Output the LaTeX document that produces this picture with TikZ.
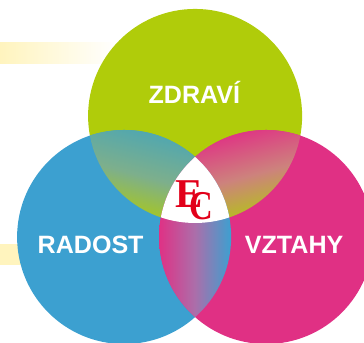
\documentclass[tikz,border=0pt]{standalone}
\usepackage{fontspec}
\setmainfont{Liberation Sans}
\newfontfamily\ecfont{Liberation Serif}
\usetikzlibrary{shadings}
\definecolor{zelena}{RGB}{176,204,10}
\definecolor{modra}{RGB}{60,160,208}
\definecolor{ruzova}{RGB}{224,48,132}
\definecolor{zluta}{RGB}{255,244,190}
\definecolor{cervena}{RGB}{226,0,26}
\definecolor{stredL}{RGB}{125,175,140}
\definecolor{stredP}{RGB}{205,130,125}
\definecolor{stredD}{RGB}{172,110,170}
\tikzset{
    kruh/.style={circle,minimum size=5.88cm,inner sep=0pt},
    popis/.style={text=white,anchor=base,font=\bfseries\fontsize{19.6}{21}\selectfont},
    pismeno/.style={text=cervena,inner sep=0pt,font=\ecfont\bfseries\fontsize{32}{34}\selectfont}
}
\begin{document}
\begin{tikzpicture}[x=1cm,y=1cm]
    \useasboundingbox (0,0) rectangle (10,9.396);
    \clip (0,0) rectangle (10,9.396);

    \shade[left color=zluta,right color=white] (0,7.64) rectangle (3.2,8.22);
    \fill[zluta] (0,2.115) rectangle (0.8,2.69);

    \node[kruh,fill=zelena] (Z) at (5.36,6.21) {};
    \node[kruh,fill=modra] (R) at (3.41,2.885) {};
    \node[kruh,fill=ruzova] (V) at (7.31,2.885) {};

    \begin{scope}
        \clip (Z.center) circle (2.94);
        \clip (R.center) circle (2.94);
        \shade[top color=modra!85!zelena,bottom color=zelena,middle color=stredL,shading angle=-15] (2.42,3.27) rectangle (5.41,5.85);
    \end{scope}
    \begin{scope}
        \clip (Z.center) circle (2.94);
        \clip (V.center) circle (2.94);
        \shade[top color=ruzova,bottom color=zelena,middle color=stredP,shading angle=15] (5.3,3.27) rectangle (8.3,5.85);
    \end{scope}
    \begin{scope}
        \clip (R.center) circle (2.94);
        \clip (V.center) circle (2.94);
        \shade[left color=ruzova,right color=modra,middle color=stredD] (4.35,0.65) rectangle (6.35,5.1);
    \end{scope}
    \begin{scope}
        \clip (Z.center) circle (2.94);
        \clip (R.center) circle (2.94);
        \clip (V.center) circle (2.94);
        \fill[white] (4,3) rectangle (7,6);
    \end{scope}

    \node[popis] (ZT) at (5.34,6.566) {ZDRAVÍ};
    \node[popis] (RT) at (2.49,2.445) {RADOST};
    \node[popis] (VT) at (8.08,2.445) {VZTAHY};
    \node[pismeno] (E) at (5.19,4.05) {E};
    \node[pismeno,xscale=.8] (C) at (5.52,3.74) {C};
\end{tikzpicture}
\end{document}
